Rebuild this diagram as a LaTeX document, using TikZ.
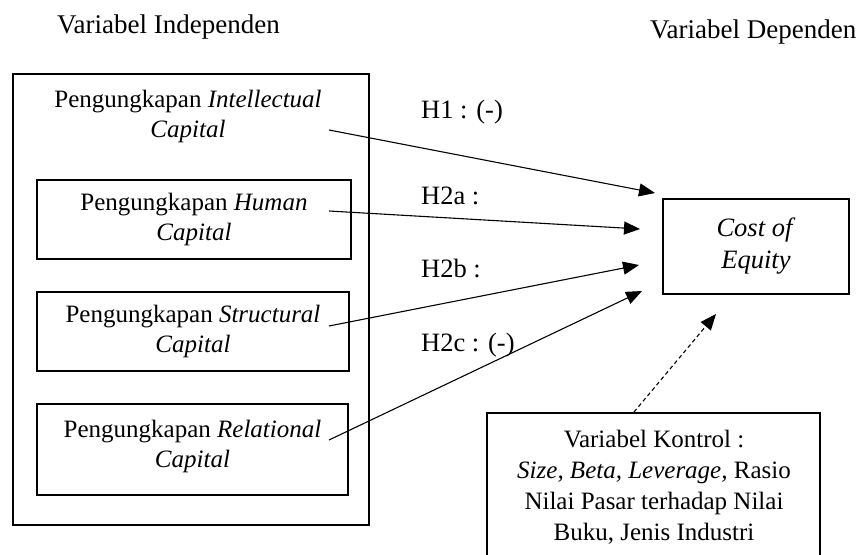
\documentclass[tikz,border=0pt]{standalone}
\usepackage{fontspec}
\setmainfont{Liberation Serif}
\usetikzlibrary{arrows.meta,calc}
\begin{document}
\begin{tikzpicture}[x=1pt,y=-1pt,
  font=\fontsize{25}{30}\selectfont,
  box/.style={draw, line width=2pt, rectangle, inner sep=0pt, align=center},
  txt/.style={inner sep=0pt, align=center},
  big/.style={font=\fontsize{27}{31}\selectfont},
  mid/.style={font=\fontsize{26.5}{32}\selectfont},
  link/.style={line width=1.1pt, -{Triangle[length=16pt,width=13pt]}},
  ctrllink/.style={link, dash pattern=on 4pt off 3pt}]
\clip (0,0) rectangle (864,554);
\fill[white] (0,0) rectangle (864,554);

% titles
\node[txt, big, anchor=west] (tindep) at (57,27) {Variabel Independen};
\node[txt, big, anchor=west] (tdep) at (650,32) {Variabel Dependen};

% independent block
\node[box, minimum width=356pt, minimum height=451pt] (indep) at (191,299.5) {};
\node[txt] (ic) at (188,116) {Pengungkapan \textit{Intellectual}\\\textit{Capital}};
\node[box, minimum width=314pt, minimum height=79pt] (hc) at (194,219.5)
  {Pengungkapan \textit{Human}\\\textit{Capital}};
\node[box, minimum width=312pt, minimum height=79pt] (sc) at (193,331.5)
  {Pengungkapan \textit{Structural}\\\textit{Capital}};
\node[box, minimum width=311pt, minimum height=91pt] (rc) at (192.5,449.5)
  {Pengungkapan \textit{Relational}\\\textit{Capital}\rule[-12pt]{0pt}{0pt}};

% dependent
\node[box, mid, minimum width=186pt, minimum height=95pt] (coe) at (756,246.5)
  {\textit{Cost of}\\\textit{Equity}};

% control
\node[box, anchor=north, minimum width=333pt, minimum height=180pt] (ctrl) at (653.5,412) {};
\node[txt, font=\fontsize{25}{31}\selectfont] (ctrltxt) at (654,487)
  {Variabel Kontrol :\\\textit{Size, Beta, Leverage,} Rasio\\Nilai Pasar terhadap Nilai\\Buku, Jenis Industri};

% hypothesis labels
\node[txt, mid, anchor=west] (h1) at (421,112) {H1 : (-)};
\node[txt, mid, anchor=west] (h2a) at (421,196) {H2a :};
\node[txt, mid, anchor=west] (h2b) at (421,268) {H2b :};
\node[txt, mid, anchor=west] (h2c) at (421,345) {H2c : (-)};

% connector end points
\coordinate (s1) at (329,130);
\coordinate (t1) at (655,193);
\coordinate (s2) at (329,211);
\coordinate (t2) at (640,229);
\coordinate (s3) at (329,326);
\coordinate (t3) at (639,265);
\coordinate (s4) at (329,440);
\coordinate (t4) at (642,291);
\coordinate (c0) at (634,412);
\coordinate (c1) at (716,314);

\draw[link] (s1) -- (t1);
\draw[link] (s2) -- (t2);
\draw[link] (s3) -- (t3);
\draw[link] (s4) -- (t4);
\draw[ctrllink] (c0) -- (c1);
\end{tikzpicture}
\end{document}
